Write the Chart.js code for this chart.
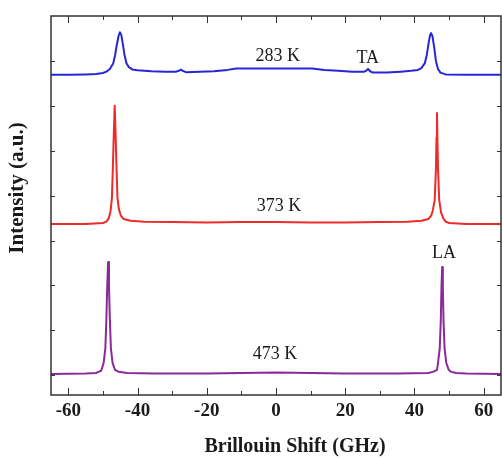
<!DOCTYPE html>
<html>
<head>
<meta charset="utf-8">
<script src="https://cdn.jsdelivr.net/npm/chart.js@4.4.1/dist/chart.umd.min.js"></script>
<style>
  html, body { margin: 0; padding: 0; background: #fff; }
  #wrap { width: 502px; height: 459px; }
</style>
</head>
<body>
<div id="wrap"><canvas id="brillouinChart"></canvas></div>
<script>
// Brillouin spectra (offset stacked, arbitrary units)
const x283 = [-65, -60, -55, -52, -50, -49, -48, -47, -46.5, -46, -45.5, -45.1, -44.7, -44.3, -43.8, -43.2, -42.5, -41.5, -40, -36, -32, -29, -28, -27.5, -27, -26, -22, -18, -14, -11.5, -5, 0, 5, 10.5, 14, 18, 22, 25.5, 26.2, 26.6, 27.2, 28, 32, 36, 39, 41, 42, 43, 43.6, 44.1, 44.5, 44.8, 45.2, 45.7, 46.2, 46.8, 47.5, 49, 55, 60, 65];
const y283 = [6.69, 6.69, 6.70, 6.71, 6.73, 6.76, 6.82, 6.95, 7.12, 7.35, 7.55, 7.64, 7.58, 7.40, 7.15, 6.95, 6.86, 6.81, 6.79, 6.77, 6.76, 6.76, 6.78, 6.81, 6.78, 6.75, 6.76, 6.77, 6.80, 6.83, 6.83, 6.83, 6.83, 6.83, 6.80, 6.78, 6.76, 6.76, 6.79, 6.82, 6.77, 6.74, 6.74, 6.76, 6.78, 6.80, 6.84, 6.95, 7.15, 7.40, 7.57, 7.62, 7.55, 7.30, 7.00, 6.82, 6.74, 6.70, 6.69, 6.69, 6.69];

const x373 = [-65, -55, -50, -49, -48.3, -47.8, -47.4, -47.1, -46.85, -46.6, -46.35, -46.1, -45.8, -45.4, -44.8, -44, -42, -38, -30, -20, -10, 0, 10, 20, 30, 38, 42, 44, 44.8, 45.3, 45.85, 46.2, 46.37, 46.5, 46.63, 46.8, 47.15, 47.7, 48.3, 49, 50, 55, 65];
const y373 = [3.37, 3.37, 3.39, 3.42, 3.50, 3.65, 3.95, 4.70, 5.40, 6.00, 5.40, 4.70, 3.95, 3.70, 3.55, 3.48, 3.44, 3.42, 3.41, 3.40, 3.41, 3.41, 3.40, 3.40, 3.41, 3.42, 3.44, 3.48, 3.55, 3.67, 3.90, 4.60, 5.30, 5.84, 5.30, 4.60, 3.90, 3.62, 3.50, 3.42, 3.39, 3.37, 3.37];

const x473 = [-65, -55, -52, -51.5, -50.5, -49.8, -49.3, -49.0, -48.75, -48.5, -48.25, -48.0, -47.7, -47.2, -46.5, -45.5, -43, -35, -20, -10, 0, 10, 20, 35, 44, 45.5, 46.5, 46.8, 47.3, 47.6, 47.8, 48.0, 48.2, 48.4, 48.7, 49.2, 49.9, 50.5, 52, 55, 65];
const y473 = [0.03, 0.04, 0.05, 0.07, 0.10, 0.27, 0.60, 1.25, 2.00, 2.52, 2.00, 1.25, 0.60, 0.27, 0.12, 0.08, 0.05, 0.04, 0.04, 0.05, 0.06, 0.05, 0.04, 0.04, 0.05, 0.08, 0.12, 0.27, 0.60, 1.20, 1.95, 2.41, 1.95, 1.20, 0.60, 0.27, 0.12, 0.08, 0.05, 0.04, 0.03];

const seriesNames = ['283 K', '373 K', '473 K'];
const seriesColors = ['#2626d6', '#ee2a2a', '#8a2a9a'];

// text labels placed in data coordinates
const noteText = ['283 K', 'TA', '373 K', '473 K', 'LA'];
const noteX = [0.5, 26.5, 0.9, -0.3, 48.5];
const noteY = [7.11, 7.06, 3.76, 0.47, 2.72];

const xMin = -65, xMax = 65;
const yMin = -0.44, yMax = 8;

function toPoints(xs, ys) {
    return xs.map((v, i) => ({ x: v, y: ys[i] }));
}

const serif = '"Liberation Serif", "Times New Roman", serif';

// frame, inward tick marks, annotations and axis titles
const framePlugin = {
    id: 'framePlugin',
    afterDraw(chart) {
        const { ctx, chartArea: a, scales } = chart;
        const xs = scales.x, ys = scales.y;
        ctx.save();
        ctx.strokeStyle = '#333';
        ctx.lineWidth = 1;
        ctx.beginPath();
        xs.ticks.forEach(t => {
            const px = Math.round(xs.getPixelForValue(t.value)) + 0.5;
            const len = t.value % 20 === 0 ? 7 : 4;
            ctx.moveTo(px, a.bottom); ctx.lineTo(px, a.bottom - len);
            ctx.moveTo(px, a.top); ctx.lineTo(px, a.top + len);
        });
        ys.ticks.forEach(t => {
            if (t.value < 0 || t.value > 7 || t.value % 1 !== 0) return;
            const py = Math.round(ys.getPixelForValue(t.value)) + 0.5;
            ctx.moveTo(a.left, py); ctx.lineTo(a.left + 4, py);
            ctx.moveTo(a.right, py); ctx.lineTo(a.right - 4, py);
        });
        ctx.stroke();

        ctx.lineWidth = 1.5;
        ctx.strokeRect(a.left, a.top, a.right - a.left, a.bottom - a.top);

        ctx.fillStyle = '#1a1a1a';
        ctx.textAlign = 'center';
        ctx.textBaseline = 'middle';
        ctx.font = '18px ' + serif;
        noteText.forEach((s, i) => {
            ctx.fillText(s, xs.getPixelForValue(noteX[i]), ys.getPixelForValue(noteY[i]));
        });

        ctx.font = 'bold 20px ' + serif;
        ctx.fillText('Brillouin Shift (GHz)', 295, 447);
        ctx.font = 'bold 21px ' + serif;
        ctx.translate(18, 188);
        ctx.rotate(-Math.PI / 2);
        ctx.fillText('Intensity (a.u.)', 0, 0);
        ctx.restore();
    }
};

document.addEventListener('DOMContentLoaded', function() {
    const ctx = document.getElementById('brillouinChart').getContext('2d');
    new Chart(ctx, {
        type: 'line',
        data: {
            datasets: [
                { label: seriesNames[0], data: toPoints(x283, y283), borderColor: seriesColors[0] },
                { label: seriesNames[1], data: toPoints(x373, y373), borderColor: seriesColors[1] },
                { label: seriesNames[2], data: toPoints(x473, y473), borderColor: seriesColors[2] }
            ]
        },
        options: {
            responsive: true,
            maintainAspectRatio: false,
            animation: false,
            datasets: {
                line: { borderWidth: 2, pointRadius: 0, tension: 0, fill: false, borderJoinStyle: 'round', borderCapStyle: 'round' }
            },
            layout: { padding: { top: 16, right: 1, left: 0, bottom: 0 } },
            plugins: {
                legend: { display: false },
                tooltip: { enabled: false }
            },
            scales: {
                x: {
                    type: 'linear',
                    min: xMin,
                    max: xMax,
                    afterBuildTicks: s => { s.ticks = s.ticks.filter(t => t.value % 10 === 0); },
                    afterFit: s => { s.height = 64; },
                    grid: { display: false, drawTicks: false },
                    border: { display: false },
                    ticks: {
                        stepSize: 5,
                        autoSkip: false,
                        maxRotation: 0,
                        padding: 5,
                        color: '#1a1a1a',
                        font: { family: serif, size: 19, weight: 'bold' },
                        callback: v => (v % 20 === 0 ? v : '')
                    }
                },
                y: {
                    min: yMin,
                    max: yMax,
                    afterFit: s => { s.width = 51; },
                    grid: { display: false, drawTicks: false },
                    border: { display: false },
                    ticks: { stepSize: 1, display: false }
                }
            }
        },
        plugins: [framePlugin]
    });
});
</script>
</body>
</html>
